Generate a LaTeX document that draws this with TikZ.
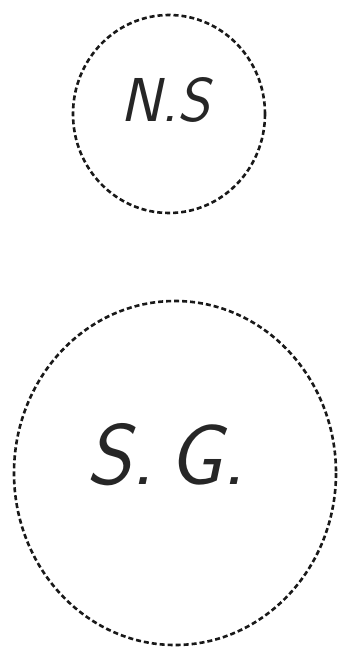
\documentclass[tikz,border=0pt]{standalone}
\usepackage{fontspec}
\begin{document}
\begin{tikzpicture}[x=1pt,y=-1pt,
  sketchring/.style={draw=black!90,line width=2.6pt,dash pattern=on 5pt off 3pt},
  handtext/.style={font=\sffamily\slshape\fontsize{62}{70}\selectfont,text=black!85}]
\useasboundingbox[fill=white] (0,0) rectangle (340,652);
\draw[sketchring] (169,114) ellipse [x radius=96, y radius=99];
\node[handtext] (ns) at (165,100) {N.S};
\draw[sketchring] (175,473) ellipse [x radius=161, y radius=172];
\node[handtext,font=\sffamily\slshape\fontsize{86}{90}\selectfont] (sg) at (166,455) {S.\,G.};
\end{tikzpicture}
\end{document}
